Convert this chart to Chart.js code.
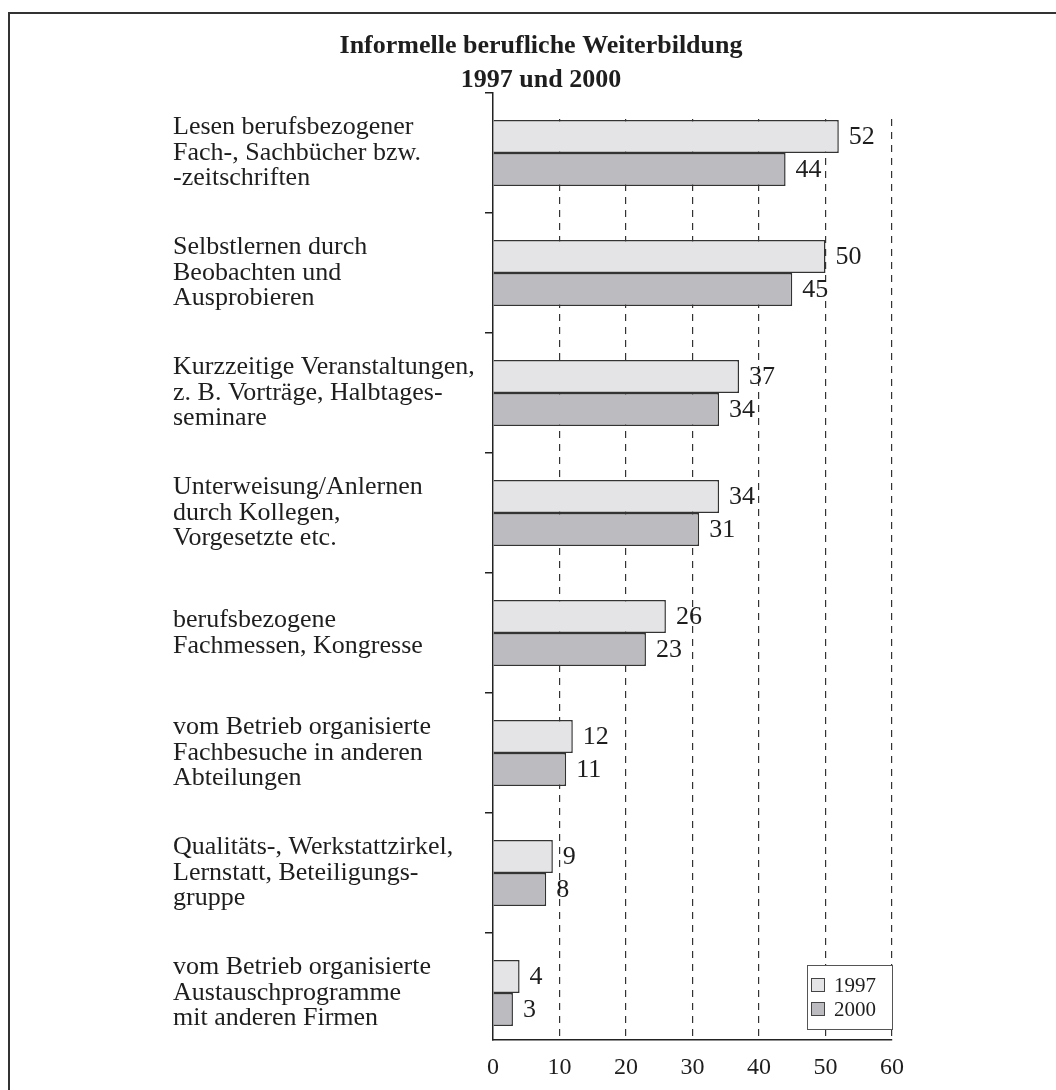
<!DOCTYPE html>
<html><head><meta charset="utf-8">
<script src="https://cdn.jsdelivr.net/npm/chart.js@4"></script>
<style>html,body{margin:0;padding:0;background:#fff}#wrap{width:1056px;height:1090px;position:relative}</style>
</head><body><div id="wrap"><canvas id="c" width="1056" height="1090"></canvas></div>
<script>
const titleLines = ['Informelle berufliche Weiterbildung', '1997 und 2000'];
const categories = [
  ['Lesen berufsbezogener', 'Fach-, Sachbücher bzw.', '-zeitschriften'],
  ['Selbstlernen durch', 'Beobachten und', 'Ausprobieren'],
  ['Kurzzeitige Veranstaltungen,', 'z. B. Vorträge, Halbtages-', 'seminare'],
  ['Unterweisung/Anlernen', 'durch Kollegen,', 'Vorgesetzte etc.'],
  ['berufsbezogene', 'Fachmessen, Kongresse'],
  ['vom Betrieb organisierte', 'Fachbesuche in anderen', 'Abteilungen'],
  ['Qualitäts-, Werkstattzirkel,', 'Lernstatt, Beteiligungs-', 'gruppe'],
  ['vom Betrieb organisierte', 'Austauschprogramme', 'mit anderen Firmen']
];
const seriesNames = ['1997', '2000'];
const values1997 = [52, 50, 37, 34, 26, 12, 9, 4];
const values2000 = [44, 45, 34, 31, 23, 11, 8, 3];
const xMin = 0, xMax = 60, xStep = 10;

const SERIF = '"Liberation Serif", "Times New Roman", serif';
const INK = '#1e1e1e';

const framePlugin = {
  id: 'frame',
  beforeDatasetsDraw(chart) {
    // grid lines start just above the first bar group, as in the reference
    const a = chart.chartArea;
    const ctx = chart.ctx;
    ctx.save();
    ctx.fillStyle = '#fff';
    ctx.fillRect(a.left + 2, a.top - 1, a.right - a.left + 4, 27);
    ctx.restore();
  },
  afterDraw(chart) {
    const ctx = chart.ctx;
    ctx.save();
    ctx.strokeStyle = '#333';
    ctx.lineWidth = 2;
    ctx.beginPath();
    ctx.moveTo(9, 1090);
    ctx.lineTo(9, 13);
    ctx.lineTo(1056, 13);
    ctx.stroke();
    ctx.fillStyle = INK;
    ctx.font = 'bold 26px ' + SERIF;
    ctx.textAlign = 'center';
    ctx.textBaseline = 'alphabetic';
    ctx.fillText(titleLines[0], 541, 53);
    ctx.fillText(titleLines[1], 541, 87);
    ctx.restore();
  }
};

const valueLabelPlugin = {
  id: 'valueLabels',
  afterDatasetsDraw(chart) {
    const ctx = chart.ctx;
    ctx.save();
    ctx.fillStyle = INK;
    ctx.font = '26px ' + SERIF;
    ctx.textAlign = 'left';
    ctx.textBaseline = 'middle';
    chart.data.datasets.forEach((ds, di) => {
      const meta = chart.getDatasetMeta(di);
      meta.data.forEach((bar, i) => {
        ctx.fillText(String(ds.data[i]), bar.x + 10, bar.y + 1);
      });
    });
    ctx.restore();
  }
};

const legendPlugin = {
  id: 'boxLegend',
  afterDraw(chart) {
    const ctx = chart.ctx;
    const bx = 807, by = 965, bw = 85, bh = 64;
    ctx.save();
    ctx.fillStyle = '#fff';
    ctx.fillRect(bx, by, bw, bh);
    ctx.strokeStyle = '#555';
    ctx.lineWidth = 1;
    ctx.strokeRect(bx + 0.5, by + 0.5, bw, bh);
    chart.data.datasets.forEach((ds, i) => {
      const cy = 985 + i * 24;
      ctx.fillStyle = ds.backgroundColor;
      ctx.fillRect(811, cy - 7, 13, 13);
      ctx.strokeStyle = '#444';
      ctx.strokeRect(811.5, cy - 6.5, 13, 13);
      ctx.fillStyle = INK;
      ctx.font = '21px ' + SERIF;
      ctx.textAlign = 'left';
      ctx.textBaseline = 'middle';
      ctx.fillText(ds.label, 834, cy + 1);
    });
    ctx.restore();
  }
};

new Chart(document.getElementById('c'), {
  type: 'bar',
  data: {
    labels: categories,
    datasets: [
      { label: seriesNames[0], data: values1997, backgroundColor: '#e4e4e6', borderColor: '#333', borderWidth: 1.5 },
      { label: seriesNames[1], data: values2000, backgroundColor: '#bcbcc0', borderColor: '#333', borderWidth: 1.5 }
    ]
  },
  options: {
    indexAxis: 'y',
    responsive: false,
    animation: false,
    devicePixelRatio: 1,
    layout: { padding: { top: 93, bottom: 0, left: 173, right: 164 } },
    datasets: { bar: { categoryPercentage: 0.55, barPercentage: 1.0 } },
    plugins: { legend: { display: false }, title: { display: false }, tooltip: { enabled: false } },
    scales: {
      x: {
        type: 'linear', position: 'bottom', min: xMin, max: xMax,
        ticks: { stepSize: xStep, color: INK, font: { family: SERIF, size: 24 }, padding: 13 },
        grid: {
          drawTicks: false,
          color: ctx => (ctx.tick && ctx.tick.value === 0) ? 'rgba(0,0,0,0)' : '#333',
          lineWidth: 1.2
        },
        border: { display: true, color: '#222', width: 1.5, dash: [7, 6] },
        afterFit: s => { s.height = 50; }
      },
      y: {
        type: 'category', position: 'left', offset: true,
        ticks: { color: INK, crossAlign: 'far', font: { family: SERIF, size: 26, lineHeight: 0.98 } },
        grid: { display: true, offset: true, drawOnChartArea: false, drawTicks: true, tickLength: 8, color: '#222', lineWidth: 1.5 },
        border: { display: true, color: '#222', width: 1.5 },
        afterFit: s => { s.width = 320; },
        afterBuildTicks: s => { s._valueRange = 947 / 120; }
      }
    }
  },
  plugins: [framePlugin, valueLabelPlugin, legendPlugin]
});
</script>
</body></html>
